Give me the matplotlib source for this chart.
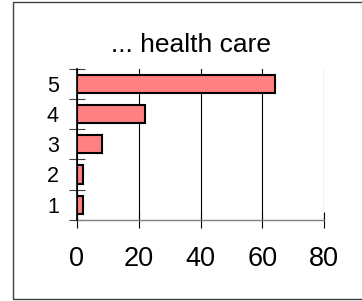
import matplotlib
matplotlib.use("Agg")
import matplotlib.pyplot as plt
from matplotlib.patches import Rectangle

categories = [1, 2, 3, 4, 5]
values = [2, 2, 8, 22, 64]
x_ticks = [0, 20, 40, 60, 80]
title = "... health care"

plt.rcParams['font.family'] = ['Liberation Sans', 'DejaVu Sans']

fig = plt.figure(figsize=(3.62, 3.01), dpi=100)
fig.patch.set_facecolor('white')
ax = fig.add_axes([77/362, 1-219.7/301, (324-77)/362, (219.7-69)/301])

ax.barh(categories, values, height=0.6, color='#FF8080', edgecolor='black', linewidth=1.5, zorder=3)

ax.set_xlim(0, 80)
ax.set_ylim(0.5, 5.5)
ax.set_xticks(x_ticks)
ax.set_xticklabels([str(t) for t in x_ticks], fontsize=19.5)
ax.grid(axis='x', color='black', linewidth=0.8, zorder=0)
ax.tick_params(axis='x', direction='inout', length=11.5, width=0.8, color='black', pad=13)

ax.set_yticks([c - 0.5 for c in categories] + [categories[-1] + 0.5])
ax.set_yticklabels([])
ax.set_yticks(categories, minor=True)
ax.set_yticklabels([str(c) for c in categories], minor=True, fontsize=15.5)
ax.tick_params(axis='y', which='major', direction='inout', length=11.5, width=0.8, color='#404040')
ax.tick_params(axis='y', which='minor', length=0, pad=13)

for s in ['top', 'right']:
    ax.spines[s].set_visible(False)
ax.spines['left'].set_color('black')
ax.spines['left'].set_linewidth(1.2)
ax.spines['left'].set_zorder(4)
ax.spines['bottom'].set_color('#808080')
ax.spines['bottom'].set_linewidth(1.0)

fig.text(191/362, 1-51.7/301, title, ha='center', va='baseline', fontsize=19)

fig.patches.append(Rectangle((12.5/362, 2/301), 1.2, (297)/301, transform=fig.transFigure,
                             fill=False, edgecolor='#404040', linewidth=1.0))

fig.savefig('out.png', dpi=100)
